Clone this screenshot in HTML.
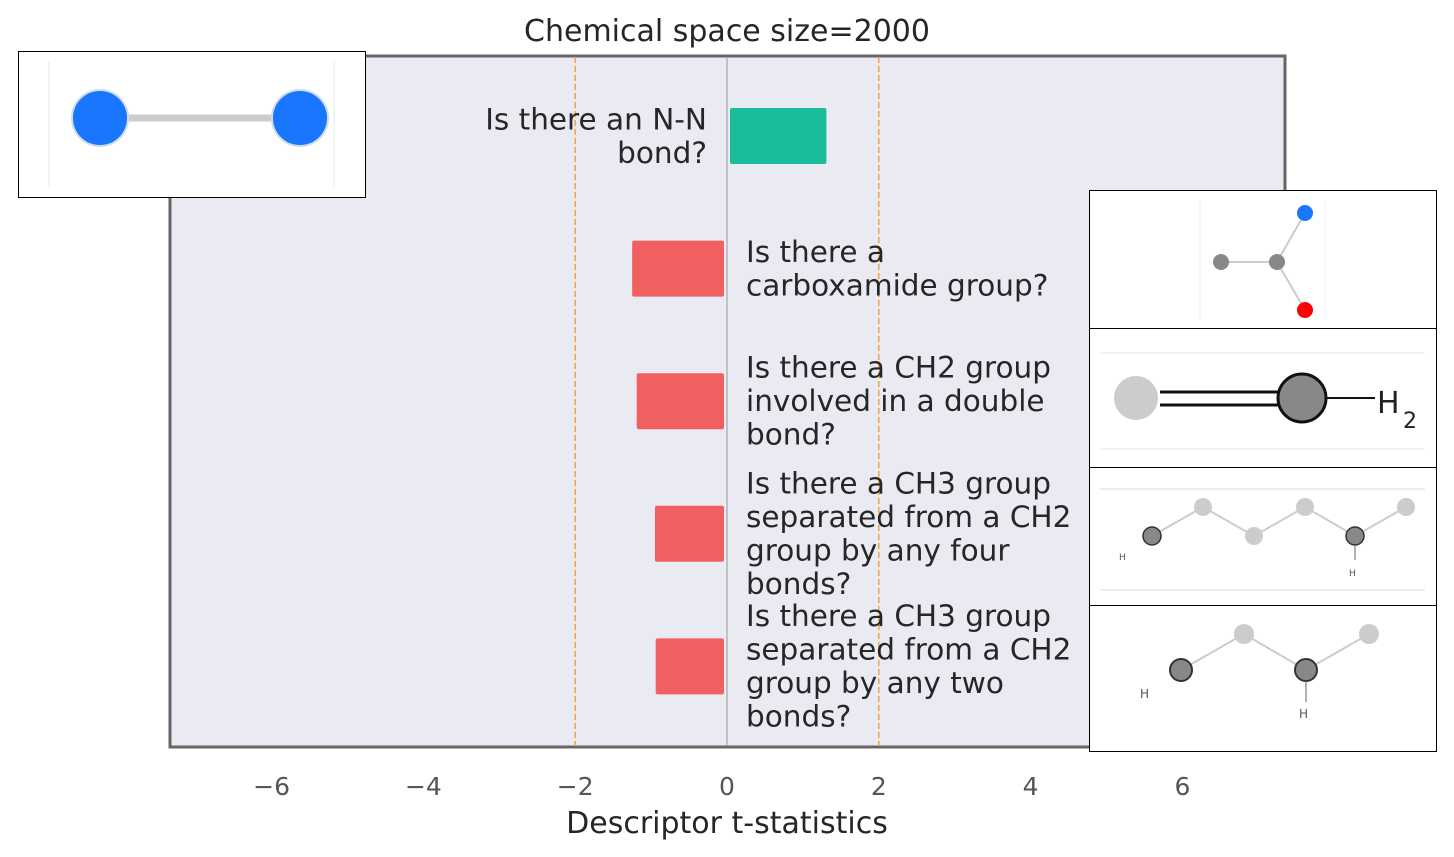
<!DOCTYPE html>
<html><head><meta charset="utf-8"><style>
body{margin:0;background:#fff;}
svg{display:block;font-family:"DejaVu Sans","Liberation Sans",sans-serif;}
</style></head><body>
<svg id="c" width="1454" height="857" xmlns="http://www.w3.org/2000/svg">
<text x="727" y="41" font-size="30" text-anchor="middle" fill="#262626">Chemical space size=2000</text>
<rect x="170" y="56" width="1115" height="691" fill="#eaeaf2" stroke="#666" stroke-width="3"/>
<g id="ticks"></g>
<g id="bars"></g>
<text x="727" y="833" font-size="30" text-anchor="middle" fill="#262626">Descriptor t-statistics</text>

<g>
<rect x="18.5" y="51.5" width="347" height="146" fill="#fff" stroke="#000"/>
<line x1="49" y1="62" x2="49" y2="187" stroke="#e6e6e6"/><line x1="334" y1="62" x2="334" y2="187" stroke="#e6e6e6"/>
<line x1="100" y1="118" x2="300" y2="118" stroke="#ccc" stroke-width="7"/>
<circle cx="100" cy="118" r="28" fill="#1a75ff" stroke="#cde" stroke-width="2"/>
<circle cx="300" cy="118" r="28" fill="#1a75ff" stroke="#cde" stroke-width="2"/>
</g>
<g>
<rect x="1089.5" y="190.5" width="347" height="138" fill="#fff" stroke="#000"/>
<line x1="1200" y1="200" x2="1200" y2="320" stroke="#f2f2f2"/><line x1="1325" y1="200" x2="1325" y2="320" stroke="#f2f2f2"/>
<line x1="1221" y1="262" x2="1277" y2="262" stroke="#ccc" stroke-width="2"/>
<line x1="1277" y1="262" x2="1305" y2="213" stroke="#ccc" stroke-width="2"/>
<line x1="1277" y1="262" x2="1305" y2="310" stroke="#ccc" stroke-width="2"/>
<circle cx="1221" cy="262" r="8" fill="#888"/><circle cx="1277" cy="262" r="8" fill="#888"/>
<circle cx="1305" cy="213" r="8" fill="#1a75ff"/><circle cx="1305" cy="310" r="8" fill="#f00"/>
</g>
<g>
<rect x="1089.5" y="328.5" width="347" height="139" fill="#fff" stroke="#000"/>
<line x1="1100" y1="353" x2="1425" y2="353" stroke="#e6e6e6"/><line x1="1100" y1="449" x2="1425" y2="449" stroke="#e6e6e6"/>
<line x1="1160" y1="392" x2="1280" y2="392" stroke="#111" stroke-width="3"/>
<line x1="1160" y1="405" x2="1280" y2="405" stroke="#111" stroke-width="3"/>
<line x1="1325" y1="398" x2="1375" y2="398" stroke="#111" stroke-width="2"/>
<circle cx="1136" cy="398" r="22" fill="#ccc"/>
<circle cx="1302" cy="398" r="24" fill="#888" stroke="#111" stroke-width="3"/>
<text x="1377" y="413" font-size="30" fill="#222">H</text><text x="1403" y="428" font-size="22" fill="#222">2</text>
</g>
<g>
<rect x="1089.5" y="467.5" width="347" height="138" fill="#fff" stroke="#000"/>
<line x1="1100" y1="489" x2="1425" y2="489" stroke="#ddd"/><line x1="1100" y1="590" x2="1425" y2="590" stroke="#ddd"/>
<polyline points="1152,536 1203,507 1254,536 1305,507 1355,536 1406,507" fill="none" stroke="#ccc" stroke-width="2"/>
<circle cx="1203" cy="507" r="9" fill="#ccc"/><circle cx="1254" cy="536" r="9" fill="#ccc"/><circle cx="1305" cy="507" r="9" fill="#ccc"/><circle cx="1406" cy="507" r="9" fill="#ccc"/>
<circle cx="1152" cy="536" r="9" fill="#888" stroke="#333" stroke-width="1.5"/><circle cx="1355" cy="536" r="9" fill="#888" stroke="#333" stroke-width="1.5"/>
<line x1="1355" y1="545" x2="1355" y2="560" stroke="#666"/>
<text x="1119" y="560" font-size="9" fill="#555">H</text><text x="1349" y="576" font-size="9" fill="#555">H</text>
</g>
<g>
<rect x="1089.5" y="605.5" width="347" height="146" fill="#fff" stroke="#000"/>
<polyline points="1181,670 1244,634 1306,670 1369,634" fill="none" stroke="#ccc" stroke-width="2"/>
<circle cx="1244" cy="634" r="10" fill="#ccc"/><circle cx="1369" cy="634" r="10" fill="#ccc"/>
<circle cx="1181" cy="670" r="11" fill="#888" stroke="#333" stroke-width="2"/><circle cx="1306" cy="670" r="11" fill="#888" stroke="#333" stroke-width="2"/>
<line x1="1306" y1="681" x2="1306" y2="702" stroke="#666"/>
<text x="1140" y="698" font-size="12" fill="#555">H</text><text x="1299" y="718" font-size="12" fill="#555">H</text>
</g>
</svg>
<script>
const tickValues=[-6,-4,-2,0,2,4,6];
const tickLabels=["\u22126","\u22124","\u22122","0","2","4","6"];
const thresholds=[-2,2];
const questions=[["Is there an N-N","bond?"],["Is there a","carboxamide group?"],["Is there a CH2 group","involved in a double","bond?"],["Is there a CH3 group","separated from a CH2","group by any four","bonds?"],["Is there a CH3 group","separated from a CH2","group by any two","bonds?"]];
const tstats=[1.27,-1.21,-1.15,-0.91,-0.9];
const NS="http://www.w3.org/2000/svg";
const X=v=>727+v*75.9;
const Y=i=>136+i*132.6;
function mk(t,a,p){const e=document.createElementNS(NS,t);for(const k in a)e.setAttribute(k,a[k]);p.appendChild(e);return e;}
const tg=document.getElementById('ticks'),bg=document.getElementById('bars');
tickValues.forEach((v,i)=>{
 const t=mk('text',{x:X(v),y:795,'font-size':25,'text-anchor':'middle',fill:'#555'},tg);
 t.textContent=tickLabels[i];
 
 
});
thresholds.forEach(v=>{
 const l=mk('line',{x1:X(v),x2:X(v),y1:57,y2:746,stroke:'#f4a442','stroke-width':1.5,'stroke-dasharray':'6,3'},tg);
 
 
});
const z=mk('line',{x1:X(0),x2:X(0),y1:57,y2:746,stroke:'#999','stroke-width':1},tg);


tstats.forEach((v,i)=>{
 const x0=Math.min(X(0),X(v)),w=Math.abs(X(v)-X(0));
 const r=mk('rect',{x:x0+(v>0?3:-3),y:Y(i)-28,width:w,height:56,rx:2,fill:v>0?'#1abc9c':'#f06060'},bg);
 
 
 const lines=questions[i];
 const pos=v>0;
 const tx=pos?X(0)-20:X(0)+19;
 const y0=Y(i)-(lines.length-1)*33.5/2+10;
 const t=mk('text',{x:tx,'font-size':29.5,'text-anchor':pos?'end':'start',fill:'#262626'},bg);
 
 
 lines.forEach((s,j)=>{const ts=mk('tspan',{x:tx,y:y0+j*33.5},t);ts.textContent=s;});
});
</script>
</body></html>
